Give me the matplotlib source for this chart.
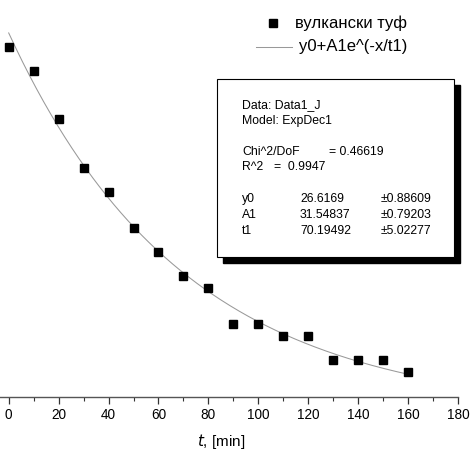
import numpy as np
import matplotlib
matplotlib.use("Agg")
import matplotlib.pyplot as plt
from matplotlib.patches import Rectangle
from matplotlib.lines import Line2D

plt.rcParams['font.family'] = ['Liberation Sans', 'DejaVu Sans']

# ---- data ----
time_min = [0, 10, 20, 30, 40, 50, 60, 70, 80, 90, 100, 110, 120, 130, 140, 150, 160]
values = [57, 55, 51, 47, 45, 42, 40, 38, 37, 34, 34, 33, 33, 31, 31, 31, 30]

# fit parameters (ExpDec1) shown in the chart
fit_y0 = 26.6169
fit_A1 = 31.54837
fit_t1 = 70.19492
chi2_text = "0.46619"
r2_text = "0.9947"
param_names = ["y0", "A1", "t1"]
param_values = ["26.6169", "31.54837", "70.19492"]
param_errors = ["\u00b10.88609", "\u00b10.79203", "\u00b15.02277"]
x_ticks = [0, 20, 40, 60, 80, 100, 120, 140, 160, 180]

W, H = 470, 454
fig = plt.figure(figsize=(W / 100, H / 100), dpi=100)

def fx(px):
    return px / W

def fy(py):
    return 1 - py / H

# axes: x=0 at px 8.7, x=180 at px 458; x axis line at py 397
ppu = (458 - 8.7) / 180.0
x_lo = -10
left_px = 8.7 + x_lo * ppu
ax = fig.add_axes([fx(left_px), fy(397), (458 - left_px) / W, 397 / H])
ax.set_xlim(x_lo, 180)
ax.set_ylim(27.96, 60.9)

xf = np.linspace(0, 160, 400)
yf = fit_y0 + fit_A1 * np.exp(-xf / fit_t1)
ax.plot(xf, yf, color='#999999', lw=0.75, zorder=2)
ax.plot(time_min, values, linestyle='none', marker='s', ms=5.2,
        color='black', zorder=3)

for s in ['left', 'top', 'right']:
    ax.spines[s].set_visible(False)
ax.spines['bottom'].set_color('#555555')
ax.spines['bottom'].set_linewidth(1.0)
ax.set_yticks([])
ax.set_xticks(x_ticks)
ax.set_xticks(np.arange(-10, 181, 10), minor=True)
ax.tick_params(axis='x', which='major', direction='out', length=5,
               width=0.9, color='#333333', labelsize=9.8, pad=3)
ax.tick_params(axis='x', which='minor', direction='out', length=3,
               width=0.8, color='#333333')
ax.set_xlabel(r'$\it{t}$, [min]', fontsize=11, labelpad=7)
ax.patch.set_alpha(0)

# legend (manual, Origin style)
fig.add_artist(Line2D([fx(273)], [fy(23)], marker='s', ms=5.2, color='black',
                      linestyle='none'))
fig.text(fx(407), fy(23), 'вулкански туф', ha='right', va='center', fontsize=12)
fig.add_artist(Line2D([fx(256), fx(292)], [fy(47), fy(47)], color='#999999', lw=0.75))
fig.text(fx(407), fy(47), 'y0+A1e^(-x/t1)', ha='right', va='center', fontsize=12)

# fit result box with shadow
bx0, by0, bx1, by1 = 217, 79, 454, 257
sh = 6
fig.add_artist(Rectangle((fx(bx0 + sh), fy(by1 + sh)), (bx1 - bx0) / W, (by1 - by0) / H,
                         transform=fig.transFigure, facecolor='black', edgecolor='black'))
fig.add_artist(Rectangle((fx(bx0), fy(by1)), (bx1 - bx0) / W, (by1 - by0) / H,
                         transform=fig.transFigure, facecolor='white', edgecolor='black', lw=0.8))

fs = 8.8
tx = 242
fig.text(fx(tx), fy(105), 'Data: Data1_J', va='center', fontsize=fs)
fig.text(fx(tx), fy(121), 'Model: ExpDec1', va='center', fontsize=fs)
fig.text(fx(tx), fy(152), 'Chi^2/DoF', va='center', fontsize=fs)
fig.text(fx(329), fy(152), '= ' + chi2_text, va='center', fontsize=fs)
fig.text(fx(tx), fy(167), 'R^2', va='center', fontsize=fs)
fig.text(fx(274), fy(167), '=  ' + r2_text, va='center', fontsize=fs)
for i, (n, v, e) in enumerate(zip(param_names, param_values, param_errors)):
    yy = 199 + i * 16
    fig.text(fx(tx), fy(yy), n, va='center', fontsize=fs)
    fig.text(fx(300), fy(yy), v, va='center', fontsize=fs)
    fig.text(fx(381), fy(yy), e, va='center', fontsize=fs)

fig.savefig('out.png', dpi=100)
